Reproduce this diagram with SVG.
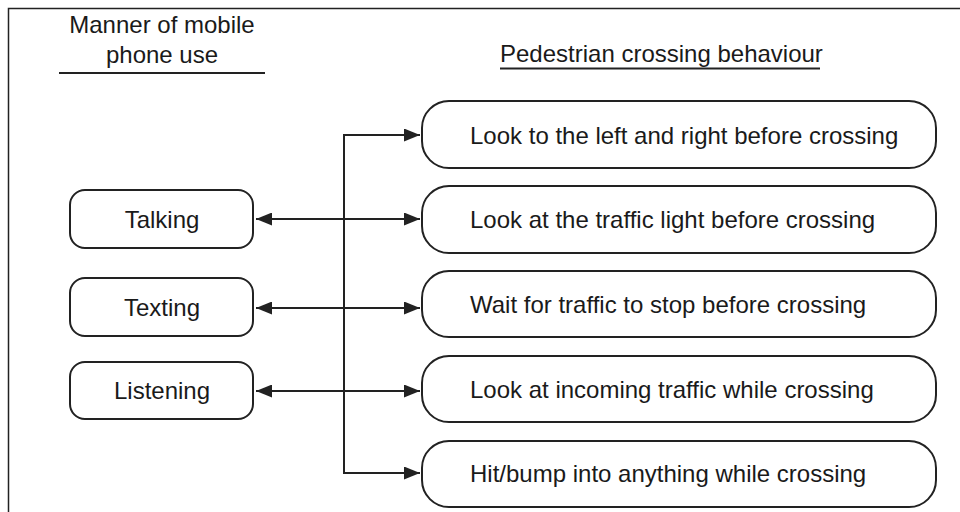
<svg xmlns="http://www.w3.org/2000/svg" width="960" height="512" viewBox="0 0 960 512">
<style>
text{font-family:"Liberation Sans",Arial,sans-serif;font-size:24px;fill:#1a1a1a}
.box{fill:#fff;stroke:#222;stroke-width:2}
.ln{fill:none;stroke:#222;stroke-width:2}
.frame{fill:none;stroke:#222;stroke-width:1.5}
</style>
<defs>
<marker id="ah" viewBox="0 0 16 13" refX="16" refY="6.5" markerWidth="16" markerHeight="13" markerUnits="userSpaceOnUse" orient="auto-start-reverse">
<path d="M0,0 L16,6.5 L0,13 Z" fill="#222"/>
</marker>
</defs>
<path class="frame" d="M8.5,512 V8.5 H960"/>
<g id="header-left">
<text x="162" y="33" text-anchor="middle">Manner of mobile</text>
<text x="162" y="63" text-anchor="middle">phone use</text>
<line class="ln" x1="59" y1="73" x2="265" y2="73"/>
</g>
<g id="header-right">
<text x="500" y="62">Pedestrian crossing behaviour</text>
<line class="ln" x1="500" y1="68.5" x2="820" y2="68.5"/>
</g>
<g id="connectors">
<path class="ln" d="M406,135 H344 V473 H406" />
<line class="ln" x1="344" y1="135" x2="420" y2="135" marker-end="url(#ah)"/>
<line class="ln" x1="344" y1="473" x2="420" y2="473" marker-end="url(#ah)"/>
<line class="ln" x1="256" y1="219" x2="420" y2="219" marker-start="url(#ah)" marker-end="url(#ah)"/>
<line class="ln" x1="256" y1="308" x2="420" y2="308" marker-start="url(#ah)" marker-end="url(#ah)"/>
<line class="ln" x1="256" y1="391" x2="420" y2="391" marker-start="url(#ah)" marker-end="url(#ah)"/>
</g>
<g id="talking">
<rect class="box" x="70" y="190" width="183" height="58" rx="15"/>
<text x="162" y="228" text-anchor="middle">Talking</text>
</g>
<g id="texting">
<rect class="box" x="70" y="278" width="183" height="58" rx="15"/>
<text x="162" y="316" text-anchor="middle">Texting</text>
</g>
<g id="listening">
<rect class="box" x="70" y="362" width="183" height="57" rx="15"/>
<text x="162" y="399" text-anchor="middle">Listening</text>
</g>
<g id="b1">
<rect class="box" x="422" y="101" width="514" height="67" rx="27"/>
<text x="470" y="144">Look to the left and right before crossing</text>
</g>
<g id="b2">
<rect class="box" x="422" y="186" width="514" height="67" rx="27"/>
<text x="470" y="228">Look at the traffic light before crossing</text>
</g>
<g id="b3">
<rect class="box" x="422" y="271" width="514" height="66" rx="27"/>
<text x="470" y="313">Wait for traffic to stop before crossing</text>
</g>
<g id="b4">
<rect class="box" x="422" y="356" width="514" height="66" rx="27"/>
<text x="470" y="398">Look at incoming traffic while crossing</text>
</g>
<g id="b5">
<rect class="box" x="422" y="441" width="514" height="66" rx="27"/>
<text x="470" y="482">Hit/bump into anything while crossing</text>
</g>
</svg>
